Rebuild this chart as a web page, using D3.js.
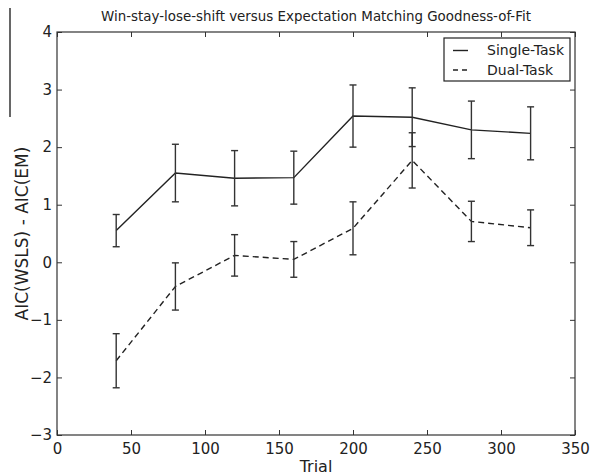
<!DOCTYPE html>
<html><head><meta charset="utf-8">
<script src="https://cdn.jsdelivr.net/npm/d3@7"></script>
<style>body{margin:0;background:#fff}svg{display:block}text{font-family:"DejaVu Sans",sans-serif;fill:#222}</style>
</head><body><svg id="c" width="591" height="476"></svg>
<script>
const trials = [40, 80, 120, 160, 200, 240, 280, 320];
const singleMean = [0.55, 1.55, 1.46, 1.47, 2.54, 2.52, 2.30, 2.24];
const singleErr  = [0.28, 0.50, 0.48, 0.46, 0.54, 0.51, 0.50, 0.46];
const dualMean = [-1.71, -0.42, 0.12, 0.05, 0.59, 1.77, 0.71, 0.60];
const dualErr  = [0.47, 0.41, 0.36, 0.31, 0.46, 0.48, 0.35, 0.31];
const xTicks = [0, 50, 100, 150, 200, 250, 300, 350];
const yTicks = [-3, -2, -1, 0, 1, 2, 3, 4];
const seriesNames = ["Single-Task", "Dual-Task"];

const svg = d3.select("#c");
const L = 57, R = 575, T = 32, B = 435;
const x = d3.scaleLinear().domain([0, 350]).range([L, R]);
const y = d3.scaleLinear().domain([-3, 4]).range([B, T]);
const ink = "#222", frame = "#333";

// artifact line at left edge
svg.append("line").attr("x1", 10).attr("x2", 10).attr("y1", 8).attr("y2", 117).attr("stroke", "#000").attr("stroke-width", 1.2);

// title
svg.append("text").attr("x", (L + R) / 2).attr("y", 21).attr("text-anchor", "middle")
  .style("font-size", "13.4px").text("Win-stay-lose-shift versus Expectation Matching Goodness-of-Fit");

// axes with inward ticks
const tl = 5;
const gB = svg.append("g").attr("transform", `translate(0,${B})`)
  .call(d3.axisBottom(x).tickValues(xTicks).tickSizeInner(-tl).tickSizeOuter(0).tickPadding(8));
const gT = svg.append("g").attr("transform", `translate(0,${T})`)
  .call(d3.axisTop(x).tickValues(xTicks).tickSizeInner(-tl).tickSizeOuter(0).tickFormat(""));
const gL = svg.append("g").attr("transform", `translate(${L},0)`)
  .call(d3.axisLeft(y).tickValues(yTicks).tickSizeInner(-tl).tickSizeOuter(0).tickPadding(5)
    .tickFormat(d => d < 0 ? "\u2212" + Math.abs(d) : d));
const gR = svg.append("g").attr("transform", `translate(${R},0)`)
  .call(d3.axisRight(y).tickValues(yTicks).tickSizeInner(-tl).tickSizeOuter(0).tickFormat(""));
[gB, gT, gL, gR].forEach(g => {
  g.select(".domain").remove();
  g.selectAll("line").attr("stroke", frame);
  g.selectAll("text").style("font-size", "15px").style("font-family", "DejaVu Sans, sans-serif").attr("fill", "#222");
});
gB.selectAll("text").attr("dy", "0.75em");
svg.append("rect").attr("x", L).attr("y", T).attr("width", R - L).attr("height", B - T)
  .attr("fill", "none").attr("stroke", frame).attr("stroke-width", 1.2);

// axis labels
svg.append("text").attr("x", (L + R) / 2).attr("y", 472).attr("text-anchor", "middle")
  .style("font-size", "16px").text("Trial");
svg.append("text").attr("transform", `translate(28,${(T + B) / 2}) rotate(-90)`).attr("text-anchor", "middle")
  .style("font-size", "17px").text("AIC(WSLS) - AIC(EM)");

// series
const series = [
  {name: seriesNames[0], mean: singleMean, err: singleErr, dash: null},
  {name: seriesNames[1], mean: dualMean, err: dualErr, dash: "6,4"}
];
const line = d3.line().x(d => x(d[0])).y(d => y(d[1]));
series.forEach(s => {
  const pts = trials.map((t, i) => [t, s.mean[i]]);
  svg.append("path").attr("d", line(pts)).attr("fill", "none").attr("stroke", ink)
    .attr("stroke-width", 1.4).attr("stroke-dasharray", s.dash);
  const g = svg.append("g").attr("stroke", "#333").attr("stroke-width", 1.4);
  trials.forEach((t, i) => {
    const cx = x(t), y1 = y(s.mean[i] + s.err[i]), y2 = y(s.mean[i] - s.err[i]);
    g.append("line").attr("x1", cx).attr("x2", cx).attr("y1", y1).attr("y2", y2);
    g.append("line").attr("x1", cx - 3.5).attr("x2", cx + 3.5).attr("y1", y1).attr("y2", y1);
    g.append("line").attr("x1", cx - 3.5).attr("x2", cx + 3.5).attr("y1", y2).attr("y2", y2);
  });
});

// legend
const lg = svg.append("g");
lg.append("rect").attr("x", 444).attr("y", 38).attr("width", 126).attr("height", 43)
  .attr("fill", "#fff").attr("stroke", ink).attr("stroke-width", 1.2);
series.forEach((s, i) => {
  const ly = 50.5 + i * 19.5;
  lg.append("line").attr("x1", 453).attr("x2", 468).attr("y1", ly).attr("y2", ly)
    .attr("stroke", ink).attr("stroke-width", 1.4).attr("stroke-dasharray", s.dash ? "5,4" : null);
  lg.append("text").attr("x", 487).attr("y", ly).attr("dy", "0.35em").style("font-size", "14px").text(s.name);
});
</script></body></html>
